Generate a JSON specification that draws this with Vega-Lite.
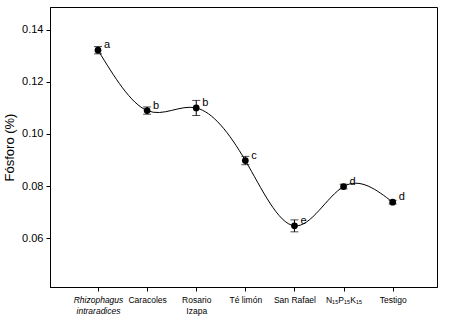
{
  "$schema": "https://vega.github.io/schema/vega-lite/v6.json",
  "width": 387,
  "height": 280,
  "autosize": "none",
  "padding": {"left": 50, "top": 7, "right": 24, "bottom": 31},
  "background": "white",
  "data": {"values": [
    {"trat": "Rhizophagus intraradices", "p": 0.1322, "se": 0.0014, "letra": "a"},
    {"trat": "Caracoles", "p": 0.1090, "se": 0.0014, "letra": "b"},
    {"trat": "Rosario Izapa", "p": 0.1100, "se": 0.0029, "letra": "b"},
    {"trat": "Té limón", "p": 0.0898, "se": 0.0016, "letra": "c"},
    {"trat": "San Rafael", "p": 0.0647, "se": 0.0023, "letra": "e"},
    {"trat": "N₁₅P₁₅K₁₅", "p": 0.0798, "se": 0.0009, "letra": "d"},
    {"trat": "Testigo", "p": 0.0738, "se": 0.0007, "letra": "d"}
  ]},
  "encoding": {
    "x": {
      "field": "trat", "type": "nominal", "sort": null,
      "scale": {"type": "point", "padding": 0.94, "align": 0.52},
      "axis": {
        "title": null, "labelAngle": 0, "tickSize": 4, "labelPadding": 4,
        "labelFontSize": 8.5, "labelLineHeight": 11,
        "labelExpr": "datum.value == 'Rhizophagus intraradices' ? ['Rhizophagus', 'intraradices'] : datum.value == 'Rosario Izapa' ? ['Rosario', 'Izapa'] : datum.value",
        "labelFontStyle": {"condition": {"test": "datum.value == 'Rhizophagus intraradices'", "value": "italic"}, "value": "normal"}
      }
    },
    "y": {
      "field": "p", "type": "quantitative",
      "scale": {"domain": [0.0412, 0.1488], "nice": false, "zero": false},
      "axis": {
        "title": "Fósforo (%)", "values": [0.06, 0.08, 0.10, 0.12, 0.14], "format": ".2f",
        "tickSize": 4, "labelFontSize": 11, "titleFontSize": 13, "titleFontWeight": "normal",
        "titlePadding": 5, "labelPadding": 3
      }
    }
  },
  "layer": [
    {"mark": {"type": "line", "interpolate": "natural", "color": "black", "strokeWidth": 1}},
    {"mark": {"type": "errorbar", "color": "black", "ticks": {"size": 8}, "rule": {"strokeWidth": 1}},
     "encoding": {"yError": {"field": "se"}}},
    {"mark": {"type": "circle", "size": 45, "color": "black", "opacity": 1}},
    {"mark": {"type": "text", "align": "left", "baseline": "middle", "dx": 6, "dy": -5, "fontSize": 11, "font": "Liberation Sans", "color": "black"},
     "encoding": {"text": {"field": "letra"}}}
  ],
  "config": {
    "view": {"stroke": "black", "strokeWidth": 1},
    "axis": {
      "grid": false, "domainColor": "black", "tickColor": "black", "labelColor": "black", "titleColor": "black",
      "labelFont": "Liberation Sans", "titleFont": "Liberation Sans", "domainWidth": 1, "tickWidth": 1
    }
  }
}
